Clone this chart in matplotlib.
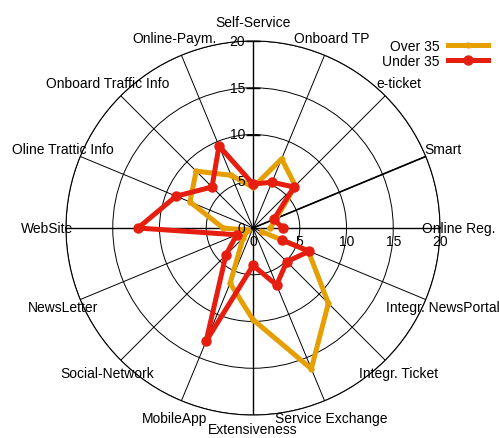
import numpy as np
import matplotlib
matplotlib.use("Agg")
import matplotlib.pyplot as plt

plt.rcParams['font.family'] = ['Liberation Sans', 'DejaVu Sans']
plt.rcParams['font.size'] = 10

# categories, counter-clockwise from 0 deg
categories = ["Online Reg.", "Smart", "e-ticket", "Onboard TP", "Self-Service",
              "Online-Paym.", "Onboard Traffic Info", "Oline Trattic Info", "WebSite",
              "NewsLetter", "Social-Network", "MobileApp", "Extensiveness",
              "Service Exchange", "Integr. Ticket", "Integr. NewsPortal"]

# data rows as in the source file (angle in degrees, value)
angles = [337.5, 337.5, 315, 292.5, 270, 247.5, 225, 202.5, 180,
          157.5, 135, 112.5, 90, 67.5, 45, 22.5, 0]
over35 = [1.0, 6.4, 11.4, 16.3, 9.8, 6.4, 1.5, 0.6, 3.2,
          7.3, 8.6, 6.1, 4.35, 8.0, 6.4, 2.7, 1.85]
under35 = [3.4, 6.5, 5.1, 6.6, 4.0, 13.1, 4.1, 1.9, 12.3,
           8.9, 6.2, 9.5, 4.7, 5.3, 6.2, 2.4, 3.2]

rticks = [5, 10, 15, 20]
rmax = 20

fig = plt.figure(figsize=(4.99, 4.39), dpi=100)
ax = fig.add_axes([66 / 499, 23 / 439, 374 / 499, 374 / 439], projection='polar')

theta = np.deg2rad(angles)
cat_theta = np.deg2rad(np.arange(len(categories)) * 360 / len(categories))

ax.set_ylim(0, rmax)
ax.set_yticks(rticks)
ax.set_yticklabels([])
ax.set_xticks(cat_theta)
ax.set_xticklabels([])
ax.grid(True, color='black', lw=0.7, ls='-')
ax.spines['polar'].set_color('black')
ax.spines['polar'].set_linewidth(0.8)
ax.set_facecolor('white')

# axes through centre and the heavier Smart spoke
for t in [0, np.pi / 2, np.pi, 3 * np.pi / 2]:
    ax.plot([t, t], [0, rmax], color='black', lw=1.0, zorder=2)
ax.plot([cat_theta[1], cat_theta[1]], [0, rmax], color='black', lw=1.2, zorder=2)

ax.plot(theta, over35, color='#E69F00', lw=3.6, marker='o', ms=3.5,
        label='Over 35', zorder=3, clip_on=False)
ax.plot(theta, under35, color='#E51E10', lw=3.6, marker='o', ms=6.5,
        label='Under 35', zorder=4, clip_on=False)

# category labels (bottom one pulled in a little so it stays on the canvas)
for t, name in zip(cat_theta, categories):
    r_lab = 21.5 if name == "Extensiveness" else 22
    ax.text(t, r_lab, name, ha='center', va='center', fontsize=10, clip_on=False)

# r labels along the vertical axis
for r in [0] + rticks:
    ax.annotate(str(r), xy=(np.pi / 2, r), xytext=(-8, 0), textcoords='offset pixels',
                ha='right', va='center', fontsize=10, annotation_clip=False)
for r in rticks:
    ax.plot([np.pi / 2], [r], marker='_', ms=9.5, mew=1.0, color='black',
            clip_on=False, zorder=2)

# r labels under the horizontal axis
for r in [0] + rticks:
    ax.annotate(str(r), xy=(0, r), xytext=(0, -13), textcoords='offset pixels',
                ha='center', va='center', fontsize=10, annotation_clip=False)

fig.legend(loc='upper right', bbox_to_anchor=(488 / 499, 1 - 40 / 439),
           frameon=False, markerfirst=False, handlelength=2.9,
           handletextpad=0.6, borderpad=0, borderaxespad=0, labelspacing=0.05)

fig.savefig('out.png', dpi=100)
